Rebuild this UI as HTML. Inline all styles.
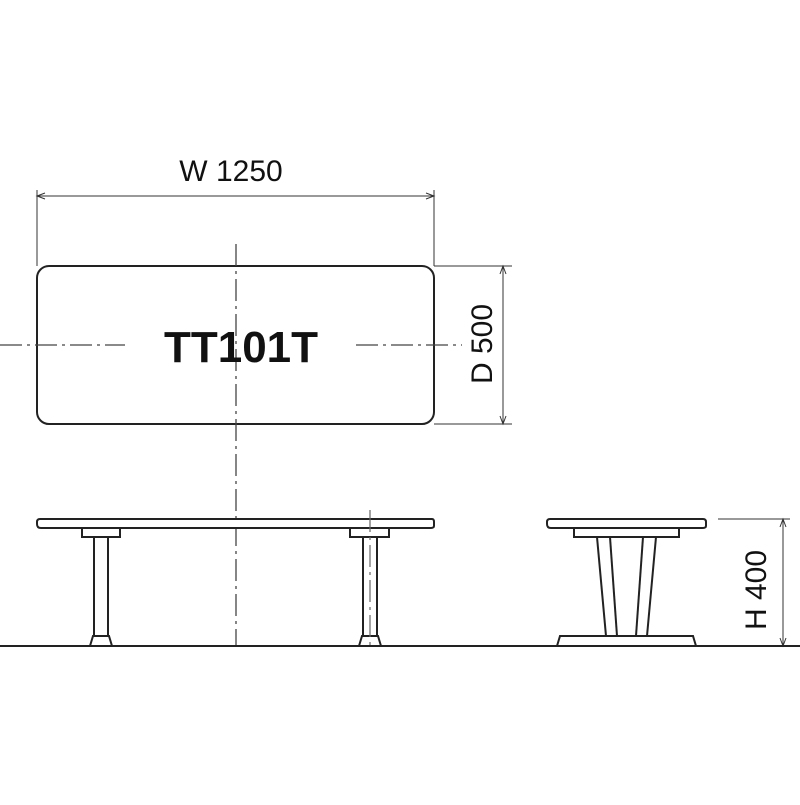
<!DOCTYPE html>
<html><head><style>html,body{margin:0;padding:0;background:#fff}</style></head><body>
<svg width="800" height="800" viewBox="0 0 800 800" xmlns="http://www.w3.org/2000/svg">
<rect width="800" height="800" fill="#fff"/>
<g fill="none" stroke="#222" stroke-width="2">
<rect x="37" y="266" width="397" height="158" rx="12"/>
</g>
<g stroke="#444" stroke-width="1.3" stroke-dasharray="22,5,3,5" fill="none">
<line x1="236" y1="244" x2="236" y2="646"/>
<line x1="0" y1="345" x2="125" y2="345"/>
<line x1="356" y1="345" x2="462" y2="345"/>
</g>
<g stroke="#333" stroke-width="1" fill="none">
<line x1="37" y1="190" x2="37" y2="266"/>
<line x1="434" y1="190" x2="434" y2="266"/>
<line x1="37" y1="196" x2="434" y2="196"/>
<line x1="434" y1="266" x2="512" y2="266"/>
<line x1="434" y1="424" x2="512" y2="424"/>
<line x1="503" y1="266" x2="503" y2="424"/>
<line x1="718" y1="519" x2="790" y2="519"/>
<line x1="783" y1="519" x2="783" y2="646"/>
<path d="M45,193 L37,196 L45,199 M426,193 L434,196 L426,199 M500,274 L503,266 L506,274 M500,416 L503,424 L506,416 M780,527 L783,519 L786,527 M780,638 L783,646 L786,638"/>
</g>
<g font-family="Liberation Sans, sans-serif" fill="#111" text-anchor="middle">
<text x="231" y="181" font-size="30">W 1250</text>
<text x="241" y="362" font-size="44" font-weight="bold">TT101T</text>
<text transform="translate(492,344) rotate(-90)" font-size="30">D 500</text>
<text transform="translate(766,590) rotate(-90)" font-size="30">H 400</text>
</g>
<g fill="#fff" stroke="#222" stroke-width="2">
<path d="M40,519 H432 Q434,519 434,522 V526 Q434,528 430,528 H41 Q37,528 37,524 V522 Q37,519 40,519 Z"/>
<rect x="82" y="528" width="38" height="9"/>
<rect x="350" y="528" width="39" height="9"/>
<rect x="94" y="537" width="14" height="99"/>
<rect x="363" y="537" width="14" height="99"/>
<path d="M93,636 H109 L112,646 H90 Z"/>
<path d="M362,636 H378 L381,646 H359 Z"/>
</g>
<line x1="370" y1="510" x2="370" y2="650" stroke="#666" stroke-width="1.2" stroke-dasharray="22,5,3,5"/>
<g fill="#fff" stroke="#222" stroke-width="2">
<path d="M550,519 H703 Q706,519 706,522 V526 Q706,528 702,528 H551 Q547,528 547,524 V522 Q547,519 550,519 Z"/>
<rect x="574" y="528" width="105" height="9"/>
<path d="M560,636 H693 L696,646 H557 Z"/>
</g>
<g stroke="#222" stroke-width="2" fill="none">
<line x1="597" y1="537" x2="606" y2="636"/>
<line x1="610" y1="537" x2="617" y2="636"/>
<line x1="643" y1="537" x2="636" y2="636"/>
<line x1="656" y1="537" x2="647" y2="636"/>
</g>
<line x1="0" y1="646" x2="800" y2="646" stroke="#222" stroke-width="2"/>
</svg>
</body></html>
